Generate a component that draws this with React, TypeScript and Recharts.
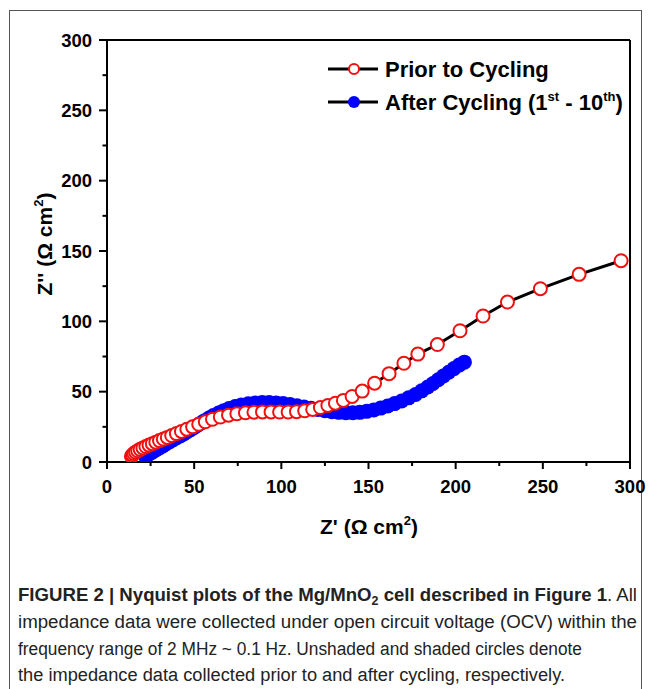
import { ScatterChart, Scatter, XAxis, YAxis, ReferenceLine } from 'recharts';

// Z' (x) and Z'' (y) readings, Ω cm²
const priorX = [
	14, 14.6, 15.4, 16.4, 17.6, 19, 20.6, 22.3, 24.1, 26, 28, 30.1, 32.3, 34.6, 37.1, 39.8, 42.7, 45.8,
	49.1, 52.6, 56.4, 60.5, 65, 69.7, 74.5, 79.4, 84.3, 89.2, 94.1, 99, 103.9, 108.7, 113.4, 118, 122.4,
	126.7, 131, 135.6, 140.6, 146.4, 153.5, 161.8, 170.3, 178.3, 189.5, 202.5, 215.7, 229.7, 248.6, 270.8,
	294.9,
];
const priorY = [
	4, 5, 6, 7, 8, 9, 10, 11, 12, 13, 14.1, 15.2, 16.3, 17.5, 18.8, 20.2, 21.7, 23.3,
	25, 26.8, 28.6, 30.4, 32, 33.3, 34.3, 35, 35.4, 35.6, 35.6, 35.5, 35.5, 35.8, 36.4, 37.4, 38.7,
	40.2, 41.8, 43.8, 46.6, 50.4, 56, 62.8, 70.2, 76.7, 83.5, 93.3, 103.8, 113.7, 123.2, 133.4,
	143.1,
];

const afterX = [
	22, 24, 26, 28, 30, 32, 34, 36, 38, 40, 42, 44, 46, 48, 50, 52, 54, 56, 58.5, 61, 64, 67, 70, 73.5,
	77, 81, 85, 89, 93, 97, 101, 105, 109, 113, 117, 121, 125, 129, 133, 137, 141, 145, 149, 153, 157,
	161, 165, 169, 173, 177, 180.5, 184, 187, 190, 193, 196, 199, 202, 205,
];
const afterY = [
	4, 5.5, 7, 8.5, 10, 11.5, 13, 14.4, 15.8, 17.2, 18.6, 20, 21.5, 23, 24.6, 26.2, 27.8, 29.4, 31.2, 33,
	34.8, 36.5, 38, 39.4, 40.5, 41.4, 42, 42.3, 42.3, 42, 41.5, 40.8, 40, 39.1, 38.2, 37.3, 36.5, 35.8,
	35.3, 35, 35, 35.3, 36, 37, 38.3, 39.8, 41.5, 43.4, 45.6, 48, 50.6, 53.3, 55.8, 58.5, 61.2, 63.8,
	66.4, 68.9, 71,
];

const axisTicks = [0, 25, 50, 75, 100, 125, 150, 175, 200, 225, 250, 275, 300];

const prior = priorX.map((x, i) => ({ x, y: priorY[i] }));
const after = afterX.map((x, i) => ({ x, y: afterY[i] }));

const font = '"Liberation Sans", Arial, sans-serif';

const XTick = ({ x, y, payload }: any) => {
	const major = payload.value % 50 === 0;
	return (
		<g>
			<line x1={x} y1={y} x2={x} y2={y + (major ? 7 : 4)} stroke="#000" strokeWidth={2} />
			{major && (
				<text x={x} y={y + 31} textAnchor="middle" fontSize={18.5} fontWeight="bold" fill="#000" fontFamily={font}>
					{payload.value}
				</text>
			)}
		</g>
	);
};

const YTick = ({ x, y, payload }: any) => {
	const major = payload.value % 50 === 0;
	return (
		<g>
			<line x1={x} y1={y} x2={x - (major ? 8 : 4.5)} y2={y} stroke="#000" strokeWidth={2} />
			{major && (
				<text x={x - 15} y={y + 6.5} textAnchor="end" fontSize={18.5} fontWeight="bold" fill="#000" fontFamily={font}>
					{payload.value}
				</text>
			)}
		</g>
	);
};

const OpenCircle = (p: any) => (
	<circle cx={p.cx} cy={p.cy} r={6.5} fill="#fff" stroke="#f01010" strokeWidth={2} />
);
const FilledCircle = (p: any) => <circle cx={p.cx} cy={p.cy} r={7.5} fill="#0000ff" />;

export default function App() {
	return (
		<div style={{ position: 'absolute', left: 0, top: 0, width: 653, height: 689, background: '#fff', overflow: 'hidden' }}>
			<div style={{ position: 'absolute', left: 9, top: 10, width: 631, height: 700, border: '1px solid #555' }} />
			<div style={{ position: 'absolute', left: 0, top: 0 }}>
				<ScatterChart width={653} height={689} margin={{ top: 40, right: 23, bottom: 177, left: 0 }}>
					<XAxis
						type="number"
						dataKey="x"
						domain={[0, 300]}
						ticks={axisTicks}
						interval={0}
						tick={<XTick />}
						tickLine={false}
						tickSize={0}
						tickMargin={0}
						height={50}
						axisLine={{ stroke: '#000', strokeWidth: 2 }}
						allowDataOverflow
					/>
					<YAxis
						type="number"
						dataKey="y"
						domain={[0, 300]}
						ticks={axisTicks}
						interval={0}
						tick={<YTick />}
						tickLine={false}
						tickSize={0}
						tickMargin={0}
						width={107}
						axisLine={{ stroke: '#000', strokeWidth: 2 }}
						allowDataOverflow
					/>
					<ReferenceLine y={300} stroke="#000" strokeWidth={2} />
					<ReferenceLine x={300} stroke="#000" strokeWidth={2} />
					<Scatter
						data={after}
						line={{ stroke: '#000', strokeWidth: 3 }}
						shape={FilledCircle}
						isAnimationActive={false}
					/>
					<Scatter
						data={prior}
						line={{ stroke: '#000', strokeWidth: 3 }}
						shape={OpenCircle}
						isAnimationActive={false}
					/>
				</ScatterChart>
			</div>
			<svg width={653} height={689} style={{ position: 'absolute', left: 0, top: 0, pointerEvents: 'none' }} fontFamily={font}>
				{/* legend */}
				<line x1={328} y1={69} x2={378} y2={69} stroke="#000" strokeWidth={3} />
				<circle cx={354} cy={69} r={5} fill="#fff" stroke="#f01010" strokeWidth={2} />
				<text x={385} y={77} fontSize={22} fontWeight="bold" fill="#000">Prior to Cycling</text>
				<line x1={328} y1={102} x2={378} y2={102} stroke="#000" strokeWidth={3} />
				<circle cx={354} cy={102} r={6} fill="#0000ff" />
				<text x={385} y={110} fontSize={22} fontWeight="bold" fill="#000">
					After Cycling (1<tspan fontSize={13} dy={-9}>st</tspan>
					<tspan dy={9}> - 10</tspan>
					<tspan fontSize={13} dy={-9}>th</tspan>
					<tspan dy={9}>)</tspan>
				</text>
				{/* axis titles */}
				<text x={369} y={534} textAnchor="middle" fontSize={21} fontWeight="bold" fill="#000">
					Z' (Ω cm<tspan fontSize={13} dy={-9}>2</tspan>
					<tspan dy={9}>)</tspan>
				</text>
				<text transform="translate(52,244) rotate(-90)" textAnchor="middle" fontSize={21} fontWeight="bold" fill="#000">
					Z'' (Ω cm<tspan fontSize={13} dy={-9}>2</tspan>
					<tspan dy={9}>)</tspan>
				</text>
				{/* caption */}
				<g fontFamily='"Liberation Sans Narrow", "Liberation Sans", sans-serif' fontSize={18} fill="#222">
					<text x={18} y={601} textLength={619} lengthAdjust="spacingAndGlyphs">
						<tspan fontWeight="bold">FIGURE 2 | Nyquist plots of the Mg/MnO</tspan>
						<tspan fontWeight="bold" fontSize={12} dy={4}>2</tspan>
						<tspan fontWeight="bold" dy={-4}> cell described in Figure 1</tspan>
						<tspan>. All</tspan>
					</text>
					<text x={18} y={628} textLength={619} lengthAdjust="spacingAndGlyphs">
						impedance data were collected under open circuit voltage (OCV) within the
					</text>
					<text x={18} y={655} textLength={564} lengthAdjust="spacingAndGlyphs">
						frequency range of 2 MHz ~ 0.1 Hz. Unshaded and shaded circles denote
					</text>
					<text x={18} y={681} textLength={547} lengthAdjust="spacingAndGlyphs">
						the impedance data collected prior to and after cycling, respectively.
					</text>
				</g>
			</svg>
		</div>
	);
}
